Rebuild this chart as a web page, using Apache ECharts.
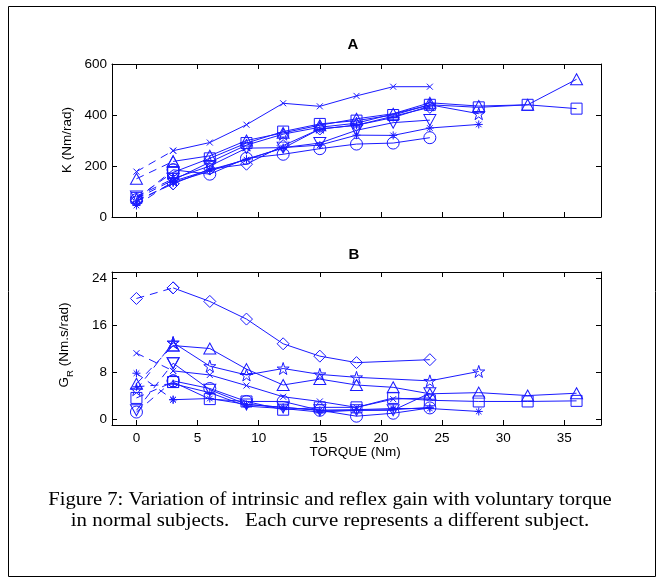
<!DOCTYPE html>
<html>
<head>
<meta charset="utf-8">
<script src="https://cdn.jsdelivr.net/npm/echarts@6.0.0/dist/echarts.min.js"></script>
<style>
  html, body { margin: 0; padding: 0; background: #fff; }
  #chart { width: 661px; height: 583px; }
</style>
</head>
<body>
<div id="chart"></div>
<script>
// tick labels
var xTicks = [0, 5, 10, 15, 20, 25, 30, 35];
var kTicks = [0, 200, 400, 600];
var gTicks = [0, 8, 16, 24];

// one entry per subject: torque (Nm), K (Nm/rad), G_R (Nm.s/rad)
var torqueCross = [0, 3, 6, 9, 12, 15, 18, 21, 24];
var kCross = [178, 260, 292, 362, 446, 434, 475, 511, 511];
var gCross = [11.2, 8.2, 7.5, 5.7, 3.8, 3.0, 2.0, 3.4, 3.6];

var torqueTri = [0, 3, 6, 9, 12, 15, 18, 21, 24, 28, 32, 36];
var kTri = [150, 218, 240, 300, 330, 360, 385, 405, 448, 435, 440, 540];
var gTri = [6.0, 12.5, 12.0, 8.5, 5.8, 6.8, 5.8, 5.4, 4.3, 4.5, 4.0, 4.4];

var torqueSq = [0, 3, 6, 9, 12, 15, 18, 21, 24, 28, 32, 36];
var kSq = [75, 175, 230, 290, 335, 365, 378, 400, 440, 430, 440, 425];
var gSq = [3.6, 6.3, 3.4, 3.0, 1.6, 2.0, 2.0, 3.6, 3.2, 3.0, 3.0, 3.1];

var torqueStar = [0, 3, 6, 9, 12, 15, 18, 24, 28];
var kStar = [72, 145, 215, 282, 325, 352, 368, 440, 405];
var gStar = [5.0, 13.0, 9.0, 7.5, 8.6, 7.6, 7.1, 6.5, 8.1];

var torqueAst = [0, 3, 6, 9, 12, 15, 18, 21, 24, 28];
var kAst = [45, 140, 185, 225, 272, 282, 321, 320, 349, 363];
var gAst = [7.8, 3.3, 3.5, 2.5, 2.0, 1.5, 1.6, 1.8, 1.8, 1.3];

var torqueCirc = [0, 3, 6, 9, 12, 15, 18, 21, 24];
var kCirc = [68, 185, 168, 230, 246, 268, 286, 290, 311];
var gCirc = [1.2, 6.5, 5.2, 3.0, 3.0, 1.5, 0.5, 1.0, 1.9];

var torqueDia = [0, 3, 6, 9, 12, 15, 18, 24];
var kDia = [65, 130, 188, 207, 280, 345, 360, 430];
var gDia = [20.5, 22.3, 20.0, 17.0, 12.8, 10.7, 9.6, 10.1];

var torqueTdn = [0, 3, 6, 9, 12, 15, 18, 21, 24];
var kTdn = [80, 150, 200, 270, 272, 290, 340, 370, 380];
var gTdn = [1.5, 9.5, 5.0, 2.5, 2.0, 1.5, 1.5, 1.5, 4.4];

var torquePlus = [0, 3, 6, 9, 12, 15, 18, 21, 24];
var kPlus = [60, 135, 180, 227, 270, 345, 360, 390, 435];
var gPlus = [5.5, 6.0, 4.5, 2.2, 1.8, 1.2, 1.5, 1.6, 2.0];

var BLUE = '#1a1aff';
var FONT = '"Liberation Sans", Arial, sans-serif';
var SERIF = '"Liberation Serif", "Times New Roman", serif';
var FS = 13.5;

// matlab-like open markers
var SYM = {
    cross: ['path://M0,0L10,10M10,0L0,10', 6],
    tri:   ['path://M5,0L10,9L0,9Z', [12, 11]],
    sq:    ['path://M0,0L10,0L10,10L0,10Z', 11],
    circ:  ['circle', 12],
    dia:   ['path://M5,0L10,5L5,10L0,5Z', 12],
    tdn:   ['path://M0,0L10,0L5,9Z', [12, 11]],
    star:  ['path://M5,0L6.12,3.46L9.76,3.45L6.81,5.59L7.94,9.05L5,6.9L2.06,9.05L3.19,5.59L0.24,3.45L3.88,3.46Z', 12],
    ast:   ['path://M5,0L5,10M0,5L10,5M1.5,1.5L8.5,8.5M8.5,1.5L1.5,8.5', 8],
    plus:  ['path://M5,0L5,10M0,5L10,5', 8]
};

var subjects = [
    [torqueCross, kCross, gCross, 'cross'],
    [torqueTri, kTri, gTri, 'tri'],
    [torqueSq, kSq, gSq, 'sq'],
    [torqueStar, kStar, gStar, 'star'],
    [torqueAst, kAst, gAst, 'ast'],
    [torqueCirc, kCirc, gCirc, 'circ'],
    [torqueDia, kDia, gDia, 'dia'],
    [torqueTdn, kTdn, gTdn, 'tdn'],
    [torquePlus, kPlus, gPlus, 'plus']
];

function xAx(grid, pos, labels) {
    return {
        type: 'value', gridIndex: grid, position: pos, min: -2, max: 38,
        axisLine: { show: true, onZero: false, lineStyle: { color: '#000', width: 1 } },
        axisTick: { show: true, inside: true, length: 5, customValues: xTicks, lineStyle: { color: '#000' } },
        axisLabel: { show: labels, customValues: xTicks, color: '#000', fontFamily: FONT, fontSize: FS, margin: 6 },
        splitLine: { show: false }
    };
}
function yAx(grid, pos, labels, min, max, ticks) {
    return {
        type: 'value', gridIndex: grid, position: pos, min: min, max: max,
        axisLine: { show: true, onZero: false, lineStyle: { color: '#000', width: 1 } },
        axisTick: { show: true, inside: true, length: 5, customValues: ticks, lineStyle: { color: '#000' } },
        axisLabel: { show: labels, customValues: ticks, color: '#000', fontFamily: FONT, fontSize: FS, margin: 5 },
        splitLine: { show: false }
    };
}

var series = [];
function addSubject(axis, torque, vals, symKey) {
    var pts = torque.map(function (t, i) { return [t, vals[i]]; });
    var s = SYM[symKey];
    var common = {
        type: 'line', xAxisIndex: axis, yAxisIndex: axis,
        symbol: s[0], symbolSize: s[1], showSymbol: true,
        itemStyle: { color: 'none', borderColor: BLUE, borderWidth: 1 },
        emphasis: { disabled: true }, animation: false, silent: true
    };
    // dashed first segment, solid after
    series.push(Object.assign({}, common, { data: pts.slice(0, 2), lineStyle: { color: BLUE, width: 1, type: [8, 6] } }));
    series.push(Object.assign({}, common, { data: pts.slice(1), lineStyle: { color: BLUE, width: 1 } }));
}
subjects.forEach(function (sub) {
    addSubject(0, sub[0], sub[1], sub[3]);
    addSubject(2, sub[0], sub[2], sub[3]);
});

var myChart = echarts.init(document.getElementById('chart'));
var option = {
    backgroundColor: '#fff',
    animation: false,
    grid: [
        { left: 112, top: 64, width: 489, height: 153 },
        { left: 112, top: 272, width: 489, height: 153 }
    ],
    xAxis: [xAx(0, 'bottom', false), xAx(0, 'top', false), xAx(1, 'bottom', true), xAx(1, 'top', false)],
    yAxis: [
        yAx(0, 'left', true, 0, 600, kTicks), yAx(0, 'right', false, 0, 600, kTicks),
        yAx(1, 'left', true, -1, 25, gTicks), yAx(1, 'right', false, -1, 25, gTicks)
    ],
    graphic: [
        { type: 'rect', shape: { x: 8.5, y: 6.5, width: 647, height: 570 }, style: { fill: 'none', stroke: '#000', lineWidth: 1 } },
        { type: 'text', x: 353, y: 45, style: { text: 'A', font: 'bold 15px ' + FONT, fill: '#000', textAlign: 'center', textVerticalAlign: 'middle' } },
        { type: 'text', x: 354, y: 255, style: { text: 'B', font: 'bold 15px ' + FONT, fill: '#000', textAlign: 'center', textVerticalAlign: 'middle' } },
        { type: 'text', x: 67, y: 140, rotation: Math.PI / 2, style: { text: 'K (Nm/rad)', font: FS + 'px ' + FONT, fill: '#000', textAlign: 'center', textVerticalAlign: 'middle' } },
        { type: 'text', x: 66, y: 345, rotation: Math.PI / 2,
          style: { text: '{a|G}{b|R}{a| (Nm.s/rad)}', fill: '#000', textAlign: 'center', textVerticalAlign: 'middle',
                   rich: { a: { fontFamily: FONT, fontSize: FS, lineHeight: 18, verticalAlign: 'top' },
                           b: { fontFamily: FONT, fontSize: 9.5, lineHeight: 18, verticalAlign: 'bottom', padding: [7, 0, 0, 0] } } } },
        { type: 'text', x: 355, y: 452, style: { text: 'TORQUE (Nm)', font: FS + 'px ' + FONT, fill: '#000', textAlign: 'center', textVerticalAlign: 'middle' } },
        { type: 'text', x: 330, y: 500, scaleX: 1.085, style: { text: 'Figure 7: Variation of intrinsic and reflex gain with voluntary torque', font: '19px ' + SERIF, fill: '#000', textAlign: 'center', textVerticalAlign: 'middle' } },
        { type: 'text', x: 330, y: 521, scaleX: 1.1, style: { text: 'in normal subjects.   Each curve represents a different subject.', font: '19px ' + SERIF, fill: '#000', textAlign: 'center', textVerticalAlign: 'middle' } }
    ],
    series: series
};
myChart.setOption(option);
</script>
</body>
</html>
